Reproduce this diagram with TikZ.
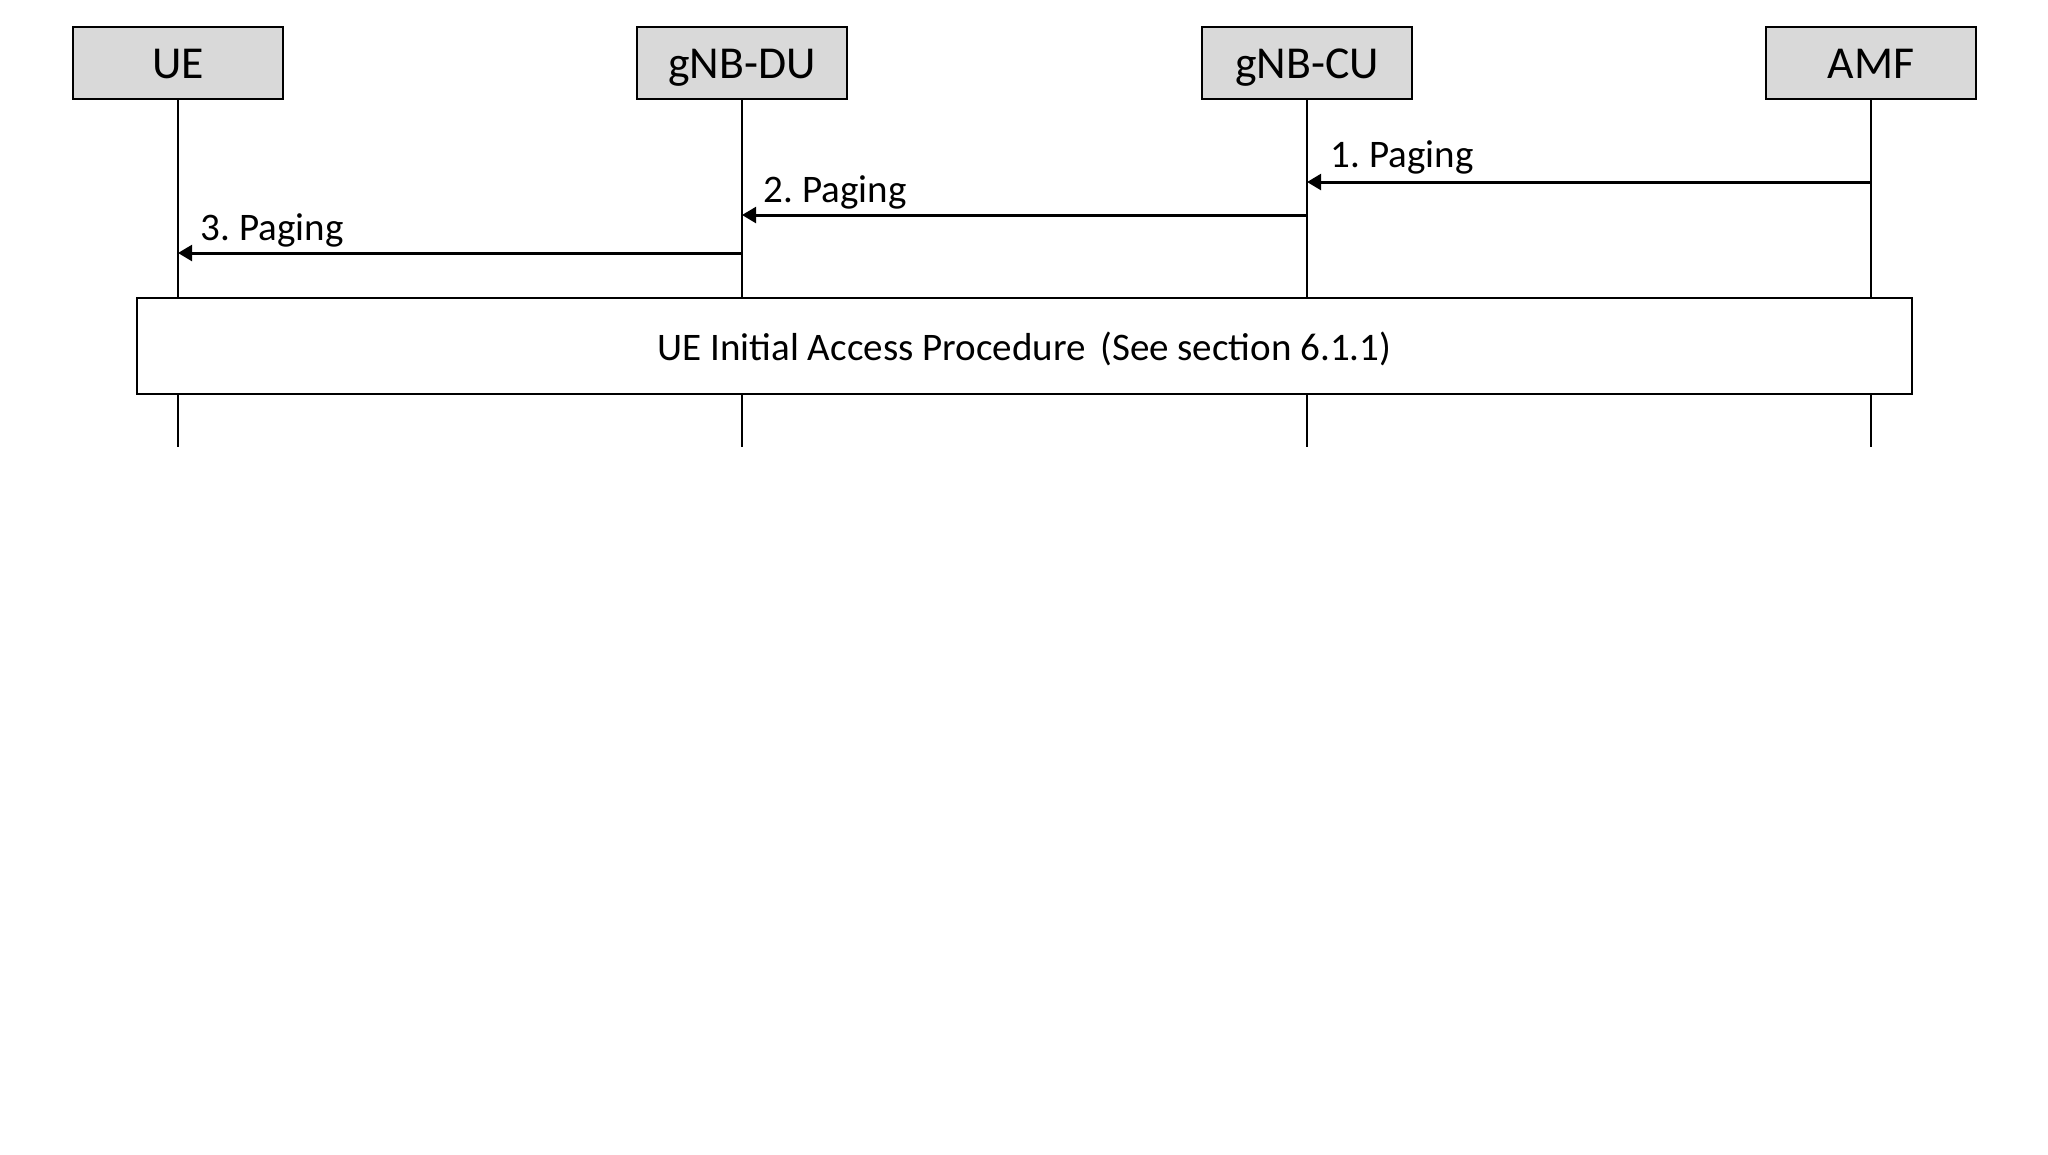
\documentclass[tikz,border=0pt]{standalone}
\usepackage{fontspec}
\setmainfont{Carlito}
\usetikzlibrary{arrows.meta}
\frenchspacing

\tikzset{
  entity/.style={draw,line width=0.75pt,fill=black!15,minimum width=210*0.01cm,minimum height=72*0.01cm,inner sep=0pt,text height=10.5pt,text depth=1.7pt,font=\fontsize{13}{15}\selectfont},
  lifeline/.style={draw,line width=0.6pt},
  msg/.style={draw,line width=0.85pt,-{Triangle[length=4pt,width=4.5pt]}},
  msglabel/.style={anchor=base west,inner sep=0pt,font=\fontsize{11.1}{13}\selectfont},
  proc/.style={draw,line width=0.75pt,fill=white,minimum width=1775*0.01cm,minimum height=96*0.01cm,inner sep=0pt,text height=10pt,text depth=1.5pt,font=\fontsize{11.1}{13}\selectfont}
}

\begin{document}
\begin{tikzpicture}[x=0.01cm,y=-0.01cm]
\useasboundingbox (0,0) rectangle (2048,1154);
% entities
\node[entity] (ue) at (178,63) {UE};
\node[entity] (du) at (742,63) {gNB-DU};
\node[entity] (cu) at (1307,63) {gNB-CU};
\node[entity] (amf) at (1871,63) {AMF};
% lifeline ends
\coordinate (ueend) at (178,447);
\coordinate (duend) at (742,447);
\coordinate (cuend) at (1307,447);
\coordinate (amfend) at (1871,447);
\path[lifeline] (ue) -- (ueend);
\path[lifeline] (du) -- (duend);
\path[lifeline] (cu) -- (cuend);
\path[lifeline] (amf) -- (amfend);
% message points
\coordinate (amf1) at (1871,182);
\coordinate (cu1) at (1307,182);
\coordinate (cu2) at (1307,215);
\coordinate (du2) at (742,215);
\coordinate (du3) at (742,253);
\coordinate (ue3) at (178,253);
\path[msg] (amf1) -- (cu1);
\path[msg] (cu2) -- (du2);
\path[msg] (du3) -- (ue3);
\node[msglabel] (l1) at (1330,167) {1. Paging};
\node[msglabel] (l2) at (763,202) {2. Paging};
\node[msglabel] (l3) at (200,240) {3. Paging};
% procedure box
\node[proc] (access) at (1024.5,346) {UE Initial Access Procedure\hspace{0.15em} (See section 6.1.1)};
\end{tikzpicture}
\end{document}
